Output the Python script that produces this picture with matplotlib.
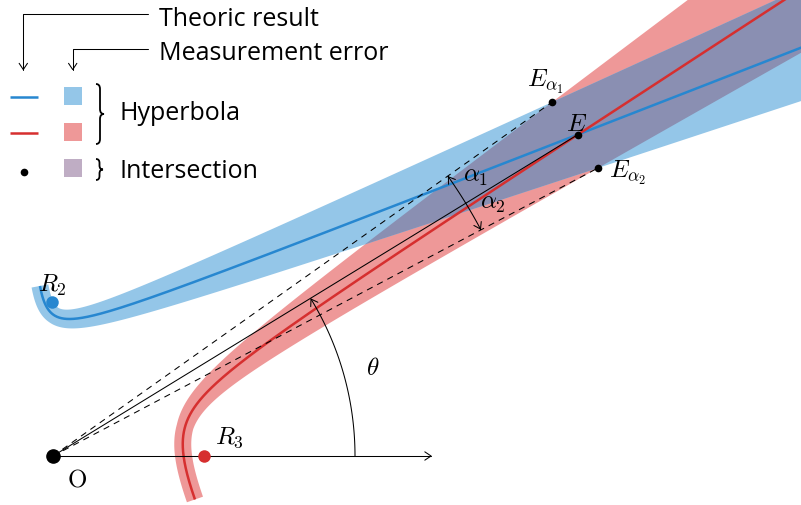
import numpy as np
import matplotlib
matplotlib.use('Agg')
import matplotlib.pyplot as plt
from matplotlib.patches import Polygon, FancyArrowPatch, PathPatch
from matplotlib.path import Path

plt.rcParams['mathtext.fontset'] = 'cm'

# geometry, in pixels with O at the origin
origin = [0, 0]
sensor_r2 = [-1, 154]
sensor_r3 = [151, 0]

# hyperbolas as centre, asymptote angles (deg), scale, arm start
blue_center = [-23.02, 106.14]
blue_angles = [21.35, 90.19]
blue_scale = 25.58
blue_tstart = -0.851
red_center = [89.01, 41.41]
red_angles = [32.96, -64.54]
red_scale = 33.92
red_tstart = -1.09

# measurement error band: half width at vertex and growth along the arm
band_h0 = 8.5
blue_growth = [0.057, 0.053]   # inner, outer
red_growth = [0.067, 0.062]    # outer, inner

C_BLUE, C_RED = '#2787d0', '#d62f2f'
C_BLUE_BAND, C_RED_BAND = '#94c6e8', '#ee9898'
C_INTER, C_INTER_KEY = '#8a8fb2', '#bfadc4'
TEXT_FONT = 'Open Sans'


def hyper(c, ang, q, t):
    a1, a2 = np.radians(ang)
    s, w = q * np.exp(t), q * np.exp(-t)
    return np.column_stack([c[0] + s * np.cos(a1) + w * np.cos(a2),
                            c[1] + s * np.sin(a1) + w * np.sin(a2)])


def offset(P, t, g, sign):
    d = np.gradient(P, axis=0)
    d /= np.linalg.norm(d, axis=1)[:, None]
    N = np.column_stack([-d[:, 1], d[:, 0]])
    ell = np.r_[0, np.linalg.norm(np.diff(P, axis=0), axis=1)].cumsum()
    ell -= ell[np.argmin(np.abs(t))]
    h = band_h0 + g * np.maximum(ell, 0)
    return P + sign * h[:, None] * N


def cross(c1, c2, t):
    xs = np.linspace(150, 760, 6000)
    a, b = c1[t > 0.3], c2[t > 0.3]
    ia, ib = np.argsort(a[:, 0]), np.argsort(b[:, 0])
    y1 = np.interp(xs, a[ia, 0], a[ia, 1])
    y2 = np.interp(xs, b[ib, 0], b[ib, 1])
    k = np.where(np.sign(y1 - y2)[:-1] != np.sign(y1 - y2)[1:])[0][-1]
    return np.array([xs[k], y1[k]])


tb = np.linspace(blue_tstart, 4.6, 2500)
tr = np.linspace(red_tstart, 4.6, 2500)
bc = hyper(blue_center, blue_angles, blue_scale, tb)
rc = hyper(red_center, red_angles, red_scale, tr)
bu = offset(bc, tb, blue_growth[0], 1)
bl = offset(bc, tb, blue_growth[1], -1)
ru = offset(rc, tr, red_growth[0], 1)
rl = offset(rc, tr, red_growth[1], -1)
E = cross(bc, rc, tb)
Ea1 = cross(bu, ru, tb)
Ea2 = cross(bl, rl, tb)

fig = plt.figure(figsize=(8.01, 5.06), dpi=100)
ax = fig.add_axes([0, 0, 1, 1])
ax.set_xlim(-53, 748)
ax.set_ylim(-49, 457)
ax.axis('off')

red_band = Polygon(np.r_[ru, rl[::-1]], closed=True, fc=C_RED_BAND, lw=0, zorder=1)
ax.add_patch(red_band)
ax.add_patch(Polygon(np.r_[bu, bl[::-1]], closed=True, fc=C_BLUE_BAND, lw=0, zorder=1.1))
inter = Polygon(np.r_[bu, bl[::-1]], closed=True, fc=C_INTER, lw=0, zorder=1.2)
ax.add_patch(inter)
inter.set_clip_path(red_band)

ax.plot(bc[:, 0], bc[:, 1], color=C_BLUE, lw=1.8, zorder=2, solid_capstyle='butt')
ax.plot(rc[:, 0], rc[:, 1], color=C_RED, lw=1.8, zorder=2.1, solid_capstyle='butt')

# rays from O
ax.plot([origin[0], E[0]], [origin[1], E[1]], color='k', lw=0.75, zorder=3)
for P in (Ea1, Ea2):
    ax.plot([origin[0], P[0]], [origin[1], P[1]], color='k', lw=0.75,
            ls=(0, (6, 5)), zorder=3)


def arrow(path_pts, scale=10):
    ax.add_patch(FancyArrowPatch(path=Path(path_pts), arrowstyle='->,head_length=0.45,head_width=0.3',
                                 mutation_scale=scale, lw=0.75, color='k',
                                 shrinkA=0, shrinkB=0, zorder=3.5))


def arc(r, a0, a1):
    a = np.linspace(a0, a1, 80)
    return np.column_stack([r * np.cos(a), r * np.sin(a)])


th = np.arctan2(E[1], E[0])
th1 = np.arctan2(Ea1[1], Ea1[0])
th2 = np.arctan2(Ea2[1], Ea2[0])
arrow(np.array([origin, [379, 0]], float))
arrow(arc(302, 0, th))
arrow(arc(484, th, th1))
arrow(arc(484, th, th2))

# points
ax.plot(*origin, 'o', color='k', ms=9.5, zorder=4)
ax.plot(*sensor_r3, 'o', color=C_RED, ms=9, mew=0, zorder=4)
ax.plot(*sensor_r2, 'o', color=C_BLUE, ms=9, mew=0, zorder=4)
for P in (E, Ea1, Ea2):
    ax.plot(*P, 'o', color='k', ms=5.5, mew=0, zorder=4)

MS = 18
ax.text(E[0] - 1, E[1] + 5, r'$E$', fontsize=MS, ha='center', va='baseline', zorder=5)
ax.text(Ea1[0] - 25, Ea1[1] + 16.5, r'$E_{\alpha_1}$', fontsize=MS, ha='left', va='baseline', zorder=5)
ax.text(Ea2[0] + 11, Ea2[1] - 8.5, r'$E_{\alpha_2}$', fontsize=MS, ha='left', va='baseline', zorder=5)
ax.text(410, 275, r'$\alpha_1$', fontsize=MS, ha='left', va='baseline', zorder=5)
ax.text(427, 248.5, r'$\alpha_2$', fontsize=MS, ha='left', va='baseline', zorder=5)
ax.text(313.5, 82, r'$\theta$', fontsize=MS, ha='left', va='baseline', zorder=5)
ax.text(23.7, -23, r'$\mathrm{O}$', fontsize=MS, ha='center', va='center', zorder=5)
ax.text(162, 13.7, r'$R_3$', fontsize=MS, ha='left', va='baseline', zorder=5)
ax.text(-14.7, 165.3, r'$R_2$', fontsize=MS, ha='left', va='baseline', zorder=5)

# legend
FS = 18
ax.text(106, 431, 'Theoric result', fontsize=FS, family=TEXT_FONT, va='baseline')
ax.text(106, 397, 'Measurement error', fontsize=FS, family=TEXT_FONT, va='baseline')
arrow(np.array([[95, 442], [-29.7, 442], [-29.7, 385.5]]))
arrow(np.array([[95, 407], [19.7, 407], [19.7, 385.5]]))

ax.plot([-43, -15], [359, 359], color=C_BLUE, lw=1.8, solid_capstyle='butt')
ax.plot([-43, -15], [322.7, 322.7], color=C_RED, lw=1.8, solid_capstyle='butt')
ax.plot(-29.3, 283.7, 'o', color='k', ms=5.5, mew=0)
for y0, col in ((351, C_BLUE_BAND), (315.3, C_RED_BAND), (279.3, C_INTER_KEY)):
    ax.add_patch(Polygon([[11, y0], [29, y0], [29, y0 + 17.7], [11, y0 + 17.7]], fc=col, lw=0))


def brace(x, y0, y1, w, r):
    m = (y0 + y1) / 2
    xm = x + w / 2
    verts = [(x, y1), (xm, y1), (xm, y1 - r), (xm, m + r), (xm, m), (x + w, m),
             (xm, m), (xm, m - r), (xm, y0 + r), (xm, y0), (x, y0)]
    codes = [Path.MOVETO, Path.CURVE3, Path.CURVE3, Path.LINETO, Path.CURVE3, Path.CURVE3,
             Path.CURVE3, Path.CURVE3, Path.LINETO, Path.CURVE3, Path.CURVE3]
    ax.add_patch(PathPatch(Path(verts, codes), fc='none', ec='k', lw=1.3))


brace(43, 312, 372, 8, 5)
brace(43, 276, 297, 7, 4)
ax.text(67, 337, 'Hyperbola', fontsize=FS, family=TEXT_FONT, va='baseline')
ax.text(67, 279, 'Intersection', fontsize=FS, family=TEXT_FONT, va='baseline')

fig.savefig('out.png', dpi=100)
